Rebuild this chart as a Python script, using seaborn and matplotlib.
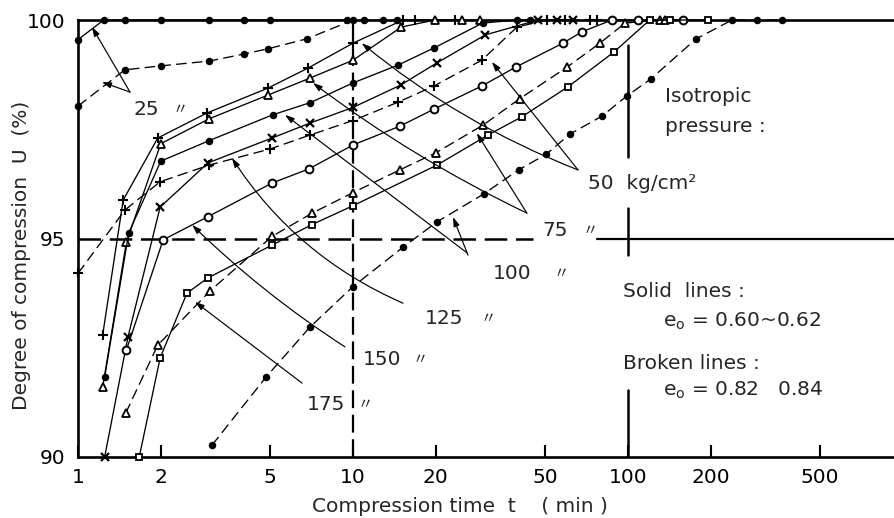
import matplotlib
matplotlib.use("Agg")
import matplotlib.pyplot as plt
import seaborn as sns
from matplotlib.ticker import NullLocator

# ---------------- data ----------------
# 25 kg/cm2
t_25s = [1, 1.24, 1.48, 2, 3, 4, 5, 9.5]
u_25s = [99.55, 100, 100, 100, 100, 100, 100, 100]
t_25b = [1, 1.48, 2, 3, 4, 4.9, 6.8, 10, 11, 12.9, 14.5]
u_25b = [98.03, 98.86, 98.95, 99.06, 99.22, 99.34, 99.57, 100, 100, 100, 100]
# 50 kg/cm2 (+)
t_50s = [1.23, 1.46, 1.95, 2.94, 4.9, 6.86, 10, 15.2, 16.8, 23.5]
u_50s = [92.8, 95.88, 97.3, 97.87, 98.44, 98.9, 99.47, 100, 100, 100]
t_50b = [1, 1.48, 1.99, 3, 5, 7, 10, 14.6, 19.7, 29.4, 39.5, 50.7, 59, 72.8, 77]
u_50b = [94.2, 95.65, 96.3, 96.68, 97.05, 97.37, 97.7, 98.12, 98.49, 99.08, 99.84,
         100, 100, 100, 100]
# 75 kg/cm2 (triangle)
t_75s = [1.23, 1.5, 2, 3, 4.9, 6.97, 10, 15, 19.9, 24.9, 29]
u_75s = [91.6, 94.92, 97.17, 97.74, 98.28, 98.67, 99.08, 99.84, 100, 100, 100]
t_75b = [1.49, 1.95, 3.02, 5.08, 7.1, 10, 14.8, 20, 29.8, 40.4, 60, 79, 97.6, 130.6, 136]
u_75b = [91.0, 92.56, 93.8, 95.05, 95.58, 96.05, 96.57, 96.96, 97.6, 98.2, 98.92,
         99.47, 99.93, 100, 100]
# 100 kg/cm2 (dot)
t_100s = [1.25, 1.53, 2, 3, 5.1, 7, 10, 14.6, 19.7, 29.6, 39.5, 44]
u_100s = [91.83, 95.13, 96.77, 97.24, 97.83, 98.11, 98.56, 98.97, 99.36, 99.93, 100, 100]
t_100b = [3.07, 4.83, 6.97, 10, 15.2, 20.2, 29.9, 40, 50.5, 61.5, 80.4, 99, 121,
          177, 239, 294, 363]
u_100b = [90.27, 91.83, 92.97, 93.9, 94.8, 95.38, 96.02, 96.57, 96.93, 97.39, 97.8,
          98.26, 98.65, 99.57, 100, 100, 100]
# 125 kg/cm2 (x)
t_125 = [1.25, 1.52, 1.99, 2.97, 5.08, 6.97, 10, 14.9, 20.2, 30.3, 47.1, 55.2, 63]
u_125 = [90.0, 92.75, 95.72, 96.73, 97.3, 97.64, 98.0, 98.51, 99.02, 99.66, 100, 100, 100]
# 150 kg/cm2 (circle)
t_150 = [1.5, 2.04, 2.97, 5.08, 6.9, 10, 14.8, 19.7, 29.4, 39, 58, 68, 87.5, 108.7, 158.5]
u_150 = [92.45, 94.97, 95.5, 96.27, 96.59, 97.14, 97.57, 97.96, 98.49, 98.92, 99.47,
         99.73, 100, 100, 100]
# 175 kg/cm2 (square)
t_175 = [1.67, 1.99, 2.49, 2.97, 5.08, 7.1, 10, 20.2, 31, 41, 60.5, 89, 120, 142, 195]
u_175 = [90.0, 92.27, 93.75, 94.1, 94.85, 95.32, 95.75, 96.68, 97.37, 97.78, 98.47,
         99.27, 100, 100, 100]

x_ticks = [1, 2, 5, 10, 20, 50, 100, 200, 500]
x_tick_labels = ["1", "2", "5", "10", "20", "50", "100", "200", "500"]
y_ticks = [90, 95, 100]
y_tick_labels = ["90", "95", "100"]

# ---------------- styling ----------------
sns.set_style("white")
plt.rcParams["font.family"] = ["DejaVu Sans", "Noto Sans CJK JP"]
plt.rcParams["mathtext.fontset"] = "dejavusans"

fig = plt.figure(figsize=(8.94, 5.18), dpi=100)
ax = fig.add_axes([78 / 894, 61 / 518, 816 / 894, 437 / 518])
ax.set_xscale("log")
ax.set_xlim(1, 10 ** (816 / 275))
ax.set_ylim(90, 100)

DASH = (0, (8, 4))
series = [
    (t_25s, u_25s, "o", "-", "k", 4.4, 1.0),
    (t_25b, u_25b, "o", DASH, "k", 4.4, 1.0),
    (t_50s, u_50s, "+", "-", "k", 7.0, 1.5),
    (t_50b, u_50b, "+", DASH, "k", 7.0, 1.5),
    (t_75s, u_75s, "^", "-", "white", 5.6, 1.3),
    (t_75b, u_75b, "^", DASH, "white", 5.6, 1.3),
    (t_100s, u_100s, "o", "-", "k", 4.4, 1.0),
    (t_100b, u_100b, "o", DASH, "k", 4.4, 1.0),
    (t_125, u_125, "x", "-", "k", 5.2, 1.6),
    (t_150, u_150, "o", "-", "white", 5.6, 1.4),
    (t_175, u_175, "s", "-", "white", 5.0, 1.3),
]
for t, u, m, ls, fc, ms, mew in series:
    sns.lineplot(x=t, y=u, ax=ax, color="k", lw=0.95, linestyle=ls, marker=m,
                 markersize=ms, markerfacecolor=fc, markeredgecolor="k",
                 markeredgewidth=mew, clip_on=False, zorder=3,
                 estimator=None, sort=False, errorbar=None, legend=False)

# reference lines
ax.plot([1, 45], [95, 95], color="k", lw=1.8, ls=(0, (9, 3.5)), zorder=2)
ax.plot([77, ax.get_xlim()[1]], [95, 95], color="k", lw=1.6, zorder=2)
ax.plot([10, 10], [90, 100], color="k", lw=1.6, ls=(0, (8, 3)), zorder=2)
for y0, y1 in [(99.43, 96.87), (95.70, 94.62), (91.53, 90.0)]:
    ax.plot([100, 100], [y0, y1], color="k", lw=1.8, zorder=2)

# spines and ticks
for side in ["left", "bottom", "top"]:
    ax.spines[side].set_linewidth(1.9)
    ax.spines[side].set_color("k")
ax.spines["right"].set_visible(False)
ax.set_xticks(x_ticks, x_tick_labels)
ax.xaxis.set_minor_locator(NullLocator())
ax.set_yticks(y_ticks, y_tick_labels)
ax.tick_params(axis="x", direction="in", length=9, width=1.5, pad=8,
               labelsize=14.5, colors="k", bottom=True, top=False)
ax.tick_params(axis="y", length=0, pad=9, labelsize=14.5, colors="k", left=True)
ax.grid(False)

ax.set_xlabel("Compression time  t    ( min )", fontsize=14.5)
ax.xaxis.set_label_coords((460 - 78) / 816, (457 - 507) / 437)
ax.xaxis.label.set_verticalalignment("center")
ax.set_ylabel("Degree of compression  U  (%)", fontsize=14.5)
ax.yaxis.set_label_coords((22 - 78) / 816, (457 - 255) / 437)
ax.yaxis.label.set_verticalalignment("center")

# leader lines (tip, tail, curvature)
leaders = [
    ((1.124, 99.84), (1.546, 98.35), 0.0),
    ((1.222, 98.58), (1.546, 98.35), 0.0),
    ((10.76, 99.47), (65.8, 96.57), -0.08),
    ((32.0, 99.04), (65.8, 96.57), 0.0),
    ((7.15, 98.56), (42.9, 95.58), -0.05),
    ((28.2, 97.41), (42.9, 95.58), 0.0),
    ((5.66, 97.83), (26.0, 94.67), 0.0),
    ((23.1, 95.49), (26.2, 94.62), 0.0),
    ((3.63, 96.84), (15.2, 93.52), -0.15),
    ((2.60, 95.31), (9.35, 92.52), -0.05),
    ((2.665, 93.55), (6.53, 91.69), 0.0),
]
for tip, tail, rad in leaders:
    ax.annotate("", xy=tip, xytext=tail,
                arrowprops=dict(arrowstyle="-|>,head_length=0.55,head_width=0.18",
                                lw=0.85, color="k", shrinkA=0, shrinkB=0,
                                connectionstyle=f"arc3,rad={rad}"), zorder=4)

FS = 14.5
labels = [
    ("25", 1.585, 97.96, 2.214),
    ("75", 48.7, 95.19, 68.6),
    ("100", 32.3, 94.21, 53.4),
    ("125", 18.3, 93.18, 29.0),
    ("150", 10.9, 92.24, 16.4),
    ("175", 6.8, 91.21, 10.4),
]
for s, x, y, xd in labels:
    ax.text(x, y, s, fontsize=FS, ha="left", va="center", zorder=5)
    ax.text(xd, y, "〃", fontsize=11, ha="left", va="center", zorder=5,
            family=["Noto Sans CJK JP", "DejaVu Sans"], style="italic")
ax.text(71.5, 96.25, "50  kg/cm²", fontsize=FS, ha="left", va="center",
        backgroundcolor="white", zorder=5)
ax.text(136.3, 98.24, "Isotropic", fontsize=FS, ha="left", va="center")
ax.text(136.3, 97.57, "pressure :", fontsize=FS, ha="left", va="center")
ax.text(95.9, 93.78, "Solid  lines :", fontsize=FS, ha="left", va="center")
ax.text(134, 93.11, r"e$_\mathrm{o}$ = 0.60~0.62", fontsize=FS, ha="left", va="center")
ax.text(95.9, 92.15, "Broken lines :", fontsize=FS, ha="left", va="center")
ax.text(134, 91.53, r"e$_\mathrm{o}$ = 0.82   0.84", fontsize=FS, ha="left", va="center")

fig.savefig("out.png", dpi=100, facecolor="white")
